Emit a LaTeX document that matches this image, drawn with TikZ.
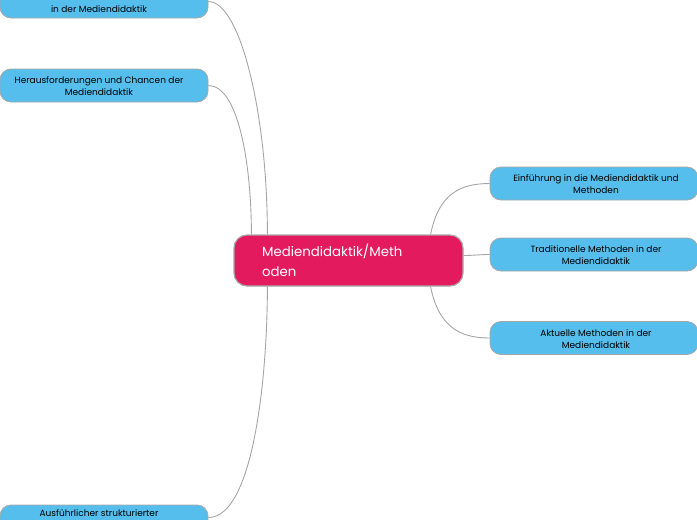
\documentclass[tikz,border=0pt]{standalone}
\usepackage{fontspec}
\setmainfont{Poppins}
\usetikzlibrary{backgrounds}
\definecolor{boxblue}{HTML}{55BEEC}
\definecolor{mainpink}{HTML}{E41A5E}
\definecolor{edgegray}{HTML}{A8A8A8}
\definecolor{linegray}{HTML}{A6A6A6}
\begin{document}
\begin{tikzpicture}[x=1pt,y=-1pt,
  subbox/.style={draw=edgegray, line width=0.8pt, fill=boxblue, rounded corners=11pt,
    minimum width=208pt, minimum height=33pt, inner sep=0pt},
  subtext/.style={align=center, font=\fontsize{9}{12}\selectfont, text=black, inner sep=0pt},
  mainbox/.style={draw=edgegray, line width=1.2pt, fill=mainpink, rounded corners=13pt,
    minimum width=229pt, minimum height=51pt, inner sep=0pt},
  maintext/.style={align=left, font=\fontsize{13.3}{19.5}\selectfont, text=white, inner sep=0pt, anchor=north west},
  conn/.style={draw=linegray, line width=0.9pt}
]
\useasboundingbox (0,0) rectangle (697,520);
\clip (0,0) rectangle (697,520);

\node[mainbox] (c) at (348.5,260.5) {};
\node[subbox] (b1) at (104,1.5) {};
\node[subbox] (b2) at (104,85.5) {};
\node[subbox] (b5) at (104,521.5) {};
\node[subbox] (r1) at (594,183.5) {};
\node[subbox] (r2) at (594,254.5) {};
\node[subbox] (r3) at (594,338) {};

\begin{scope}[on background layer]
\fill[white] (0,0) rectangle (697,520);
\draw[conn] (b1.east) .. controls +(32,0) and +(0,-120) .. ([xshift=34pt]c.north west);
\draw[conn] (b2.east) .. controls +(30,0) and +(0,-70) .. ([xshift=18pt]c.north west);
\draw[conn] ([yshift=4pt]b5.east) .. controls +(45,0) and +(0,90) .. ([xshift=34pt]c.south west);
\draw[conn] ([xshift=-33pt]c.north east) .. controls +(8,-40) and +(-30,0) .. (r1.west);
\draw[conn] ([yshift=5pt]c.east) .. controls +(10,0) and +(-10,0) .. (r2.west);
\draw[conn] ([xshift=-33pt]c.south east) .. controls +(8,40) and +(-30,0) .. (r3.west);
\end{scope}

\node[maintext] (ct) at (262,244) {Mediendidaktik/Meth\\oden};
\node[subtext] (t1) at (99,9.5) {in der Mediendidaktik};
\node[subtext] (t2) at (99,86.5) {Herausforderungen und Chancen der\\Mediendidaktik};
\node[subtext] (t5) at (99,513.5) {Ausführlicher strukturierter};
\node[subtext] (tr1) at (596,184.5) {Einführung in die Mediendidaktik und\\Methoden};
\node[subtext] (tr2) at (596,255.5) {Traditionelle Methoden in der\\Mediendidaktik};
\node[subtext] (tr3) at (596,339) {Aktuelle Methoden in der\\Mediendidaktik};
\end{tikzpicture}
\end{document}
